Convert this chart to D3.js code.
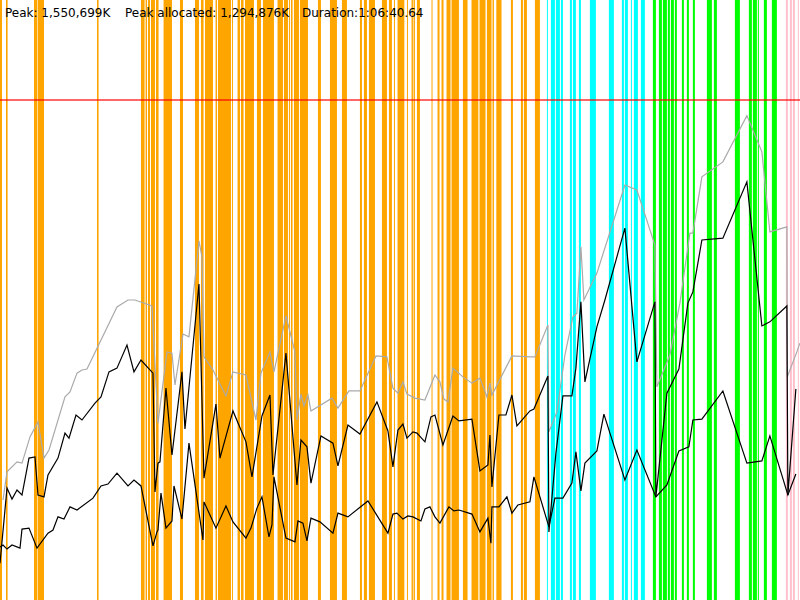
<!DOCTYPE html>
<html>
<head>
<meta charset="utf-8">
<title>Memory profile</title>
<script src="https://cdn.jsdelivr.net/npm/d3@7"></script>
<style>
    body { margin: 0; background: #fff; }
    #chart { width: 800px; height: 600px; }
    .header { font-family: "DejaVu Sans", sans-serif; font-size: 12px; fill: #000; }
</style>
</head>
<body>
<div id="chart"></div>
<script>
// run length in seconds (1:06:40.64) and memory in MB
let duration = 4000.64;
let memMax = 1920;
let memLimit = 1600;

let headerLabels = ["Peak: 1,550,699K", "Peak allocated: 1,294,876K", "Duration:1:06:40.64"];

// phase spans [start s, end s]
let orangeSpans = [[0,10],[30,38],[170,185],[188,220],[485,493],[705,723],[728,735],[740,750],[755,775],[780,793],
    [818,860],[900,915],[975,995],[1005,1018],[1025,1065],[1078,1085],[1090,1155],[1160,1165],[1188,1200],
    [1205,1218],[1225,1270],[1285,1305],[1315,1370],[1388,1415],[1420,1440],[1445,1450],[1455,1463],[1470,1495],
    [1500,1540],[1590,1605],
    [1650,1685],[1710,1735],[1800,1810],[1820,1835],[1845,1875],[1910,1935],[1945,1960],[1970,1975],[1988,2022],
    [2035,2040],[2058,2065],[2068,2075],[2085,2100],[2158,2163],[2188,2198],[2208,2218],[2233,2253],[2258,2295],
    [2315,2338],[2358,2392],[2398,2428],[2435,2458],[2463,2470],[2482,2508],[2555,2565],[2605,2615],[2620,2635],
    [2675,2700]];
let cyanSpans = [[2735,2740],[2755,2775],[2780,2800],[2805,2815],[2850,2860],[2865,2880],[2895,2905],[2950,2980],
    [3045,3070],[3110,3120],[3125,3140],[3155,3160],[3170,3190],[3205,3225]];
let greenSpans = [[3265,3280],[3295,3310],[3315,3335],[3340,3350],[3355,3370],[3375,3385],[3410,3420],[3435,3445],
    [3465,3475],[3535,3560],[3570,3585],[3675,3700],[3745,3760],[3765,3785],[3790,3795],[3820,3835],[3860,3885]];
let pinkSpans = [[3930,3940],[3950,3960],[3965,3975],[3990,3995]];

// gray: peak memory
let peakTime = [15,35,85,110,150,190,220,245,325,350,385,410,435,585,640,675,760,790,835,860,875,915,945,995,1010,
    1020,1065,1130,1165,1230,1280,1305,1350,1370,1430,1475,1485,1505,1520,1540,1555,1660,1690,1745,1800,1880,1935,
    1965,1990,2015,2035,2075,2125,2175,2200,2220,2240,2265,2315,2360,2400,2435,2450,2460,2560,2650,2675,2740,2745,
    2785,2825,2865,2885,2905,2920,2985,3125,3185,3275,3285,3350,3400,3450,3465,3510,3615,3735,3810,3850,3935,3937,
    3985,4000];
let peakMem = [320,410,442,438,522,570,454,480,650,666,726,736,739,938,960,960,941,566,794,790,688,851,842,1149,1098,
    778,736,653,730,720,576,726,794,730,909,794,576,659,621,656,605,646,614,669,669,781,778,
    678,662,698,659,646,640,720,698,643,634,742,714,694,710,650,694,656,781,778,778,880,538,
    602,784,906,918,1130,960,1046,1328,1312,1136,682,784,950,1174,1174,1354,1402,1550,1434,1178,1194,714,
    794,822];

// black: allocated memory
let allocTime = [0,35,60,85,110,145,175,190,220,240,290,325,345,380,410,475,505,545,585,635,670,705,765,775,790,800,
    830,860,910,925,995,1020,1080,1100,1165,1230,1260,1310,1350,1365,1430,1485,1505,1535,1555,1605,1665,1690,1740,
    1800,1885,1940,1965,1990,2015,2035,2065,2085,2125,2155,2175,2215,2265,2295,2360,2400,2440,2450,2460,2495,2530,
    2560,2585,2650,2670,2740,2745,2780,2815,2860,2880,2905,2925,2985,3025,3125,3185,3275,3280,3335,3395,3440,3465,
    3510,3615,3735,3810,3850,3935,3940,3980];
let allocMem = [118,358,323,352,336,454,458,336,330,400,454,534,518,592,576,630,650,730,742,816,730,768,726,346,438,442,
    678,464,730,547,1011,390,627,454,605,506,394,589,656,400,790,368,512,490,374,525,502,429,560,
    531,634,541,426,544,563,518,538,534,506,586,592,496,589,573,579,413,432,528,362,592,592,
    656,557,605,611,717,218,470,653,653,742,954,698,874,960,1190,762,954,330,662,739,950,986,
    1152,1158,1338,877,890,941,336,675];

// black: live memory
let liveTime = [0,15,35,60,100,110,145,185,240,265,290,320,350,385,465,505,540,585,640,670,705,765,785,790,805,830,860,
    870,910,945,1015,1020,1080,1130,1165,1230,1255,1285,1310,1345,1360,1370,1430,1475,1490,1515,1535,1555,1600,1665,
    1690,1740,1840,1940,1965,1985,2015,2040,2065,2105,2125,2150,2175,2200,2245,2270,2295,2360,2400,2440,2455,2460,
    2495,2535,2560,2590,2650,2670,2745,2775,2815,2860,2880,2905,2925,2985,3020,3125,3185,3280,3335,3395,3445,3465,
    3510,3615,3735,3810,3850,3940,3980];
let liveMem = [170,176,163,176,166,227,230,166,214,224,266,259,298,288,326,365,371,406,365,384,365,173,218,224,342,230,253,
    365,259,502,192,314,230,301,250,198,230,294,330,202,240,394,198,186,253,246,189,262,250,214,
    278,266,317,214,275,278,259,269,266,253,291,298,266,246,298,285,288,275,218,262,182,298,
    298,330,278,304,314,394,234,326,326,374,474,349,438,477,595,384,480,330,368,477,490,576,
    579,669,438,445,525,336,403];

class MemoryChart {

    constructor(parentElement) {
        this.parentElement = parentElement;
        this.initVis();
    }

    initVis() {
        let vis = this;

        vis.width = 800;
        vis.height = 600;

        vis.svg = d3.select("#" + vis.parentElement).append("svg")
            .attr("width", vis.width)
            .attr("height", vis.height);

        vis.xScale = d3.scaleLinear()
            .domain([0, duration])
            .range([0, vis.width]);

        vis.yScale = d3.scaleLinear()
            .domain([0, memMax])
            .range([vis.height, 0]);

        vis.wrangleData();
    }

    wrangleData() {
        let vis = this;

        vis.phases = [
            {spans: orangeSpans, color: "#ffa500"},
            {spans: cyanSpans, color: "#00ffff"},
            {spans: greenSpans, color: "#00ff00"},
            {spans: pinkSpans, color: "#ffc0cb"}
        ];

        vis.series = [
            {values: peakTime.map((t, i) => ({t: t, m: peakMem[i]})), color: "#aaaaaa"},
            {values: allocTime.map((t, i) => ({t: t, m: allocMem[i]})), color: "#000000"},
            {values: liveTime.map((t, i) => ({t: t, m: liveMem[i]})), color: "#000000"}
        ];

        vis.updateVis();
    }

    updateVis() {
        let vis = this;

        // phase bars
        vis.phases.forEach(function (p) {
            vis.svg.append("g")
                .selectAll("rect")
                .data(p.spans)
                .enter()
                .append("rect")
                .attr("x", d => vis.xScale(d[0]))
                .attr("width", d => vis.xScale(d[1]) - vis.xScale(d[0]))
                .attr("y", 0)
                .attr("height", vis.height)
                .attr("fill", p.color);
        });

        // limit line
        vis.svg.append("line")
            .attr("x1", 0)
            .attr("x2", vis.width)
            .attr("y1", vis.yScale(memLimit))
            .attr("y2", vis.yScale(memLimit))
            .attr("stroke", "#ff0000")
            .attr("stroke-opacity", 0.6)
            .attr("stroke-width", 2);

        let line = d3.line()
            .x(d => vis.xScale(d.t))
            .y(d => vis.yScale(d.m));

        vis.series.forEach(function (s) {
            vis.svg.append("path")
                .datum(s.values)
                .attr("fill", "none")
                .attr("stroke", s.color)
                .attr("stroke-width", 1.2)
                .attr("d", line);
        });

        // header
        let xs = [5, 125, 302];
        vis.svg.append("g")
            .selectAll("text")
            .data(headerLabels)
            .enter()
            .append("text")
            .attr("class", "header")
            .attr("x", (d, i) => xs[i])
            .attr("y", 17)
            .text(d => d);
    }
}

new MemoryChart("chart");
</script>
</body>
</html>
